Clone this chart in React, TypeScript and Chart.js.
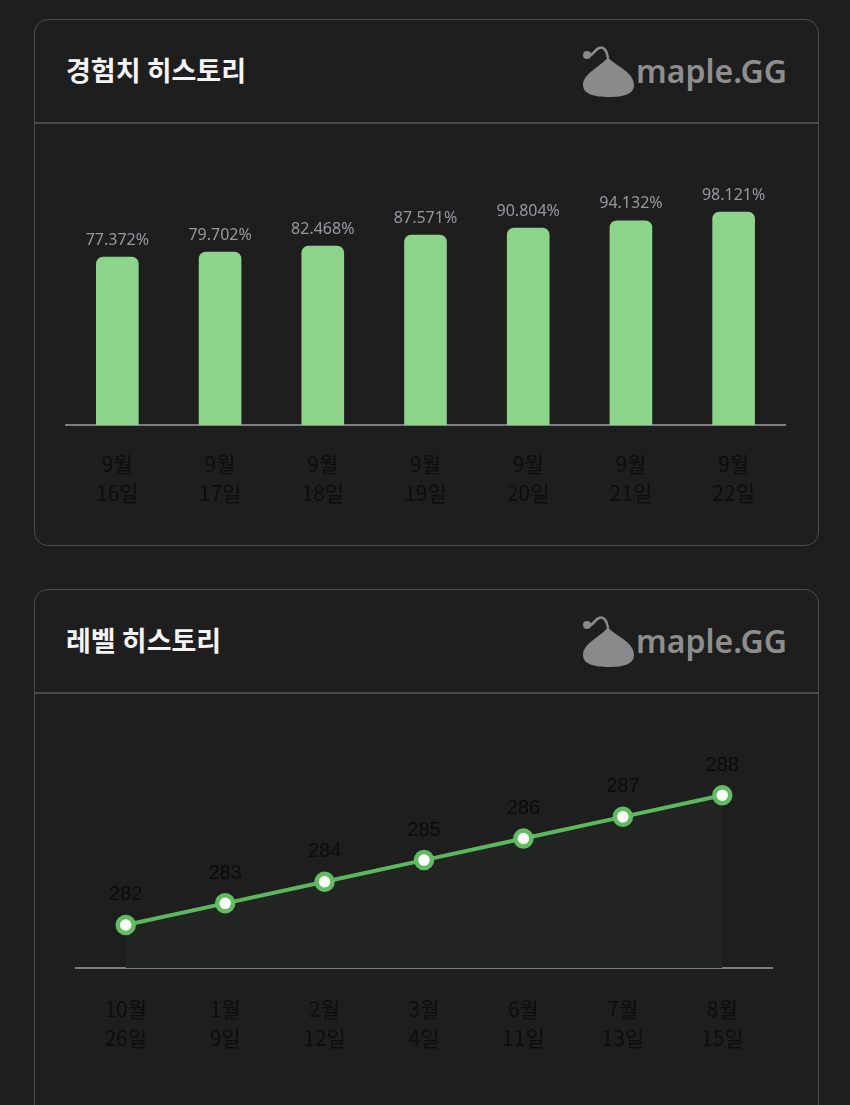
import React, { useEffect, useRef } from "react";
import { Chart, registerables } from "chart.js";

Chart.register(...registerables);

// ---- data ----
const expDates: string[][] = [
  ["9월", "16일"],
  ["9월", "17일"],
  ["9월", "18일"],
  ["9월", "19일"],
  ["9월", "20일"],
  ["9월", "21일"],
  ["9월", "22일"],
];
const expValues: number[] = [77.372, 79.702, 82.468, 87.571, 90.804, 94.132, 98.121];

const levelDates: string[][] = [
  ["10월", "26일"],
  ["1월", "9일"],
  ["2월", "12일"],
  ["3월", "4일"],
  ["6월", "11일"],
  ["7월", "13일"],
  ["8월", "15일"],
];
const levelValues: number[] = [282, 283, 284, 285, 286, 287, 288];

const KR = '"Noto Sans CJK KR", "Noto Sans", sans-serif';
const BG = "#1e1e1e";

function makeLabelPlugin(font: string, color: string, offset: number, fmt: (v: number) => string) {
  return {
    id: "valueLabels",
    afterDatasetsDraw(chart: any) {
      const ctx = chart.ctx;
      const meta = chart.getDatasetMeta(0);
      const data = chart.data.datasets[0].data as number[];
      ctx.save();
      ctx.font = font;
      ctx.fillStyle = color;
      ctx.textAlign = "center";
      ctx.textBaseline = "middle";
      meta.data.forEach((el: any, i: number) => {
        ctx.fillText(fmt(data[i]), el.x, el.y - offset);
      });
      ctx.restore();
    },
  };
}

function ExpChart() {
  const ref = useRef<HTMLCanvasElement>(null);
  useEffect(() => {
    const chart = new Chart(ref.current!, {
      type: "bar",
      data: {
        labels: expDates,
        datasets: [
          {
            data: expValues,
            backgroundColor: "#8dd48b",
            borderRadius: { topLeft: 7, topRight: 7, bottomLeft: 0, bottomRight: 0 },
            borderSkipped: "start",
            barThickness: 42,
          },
        ],
      },
      options: {
        responsive: false,
        animation: false,
        layout: { padding: { left: 16, right: 25, top: 78, bottom: 13 } },
        plugins: { legend: { display: false }, tooltip: { enabled: false } },
        scales: {
          x: {
            grid: { display: false, drawTicks: false },
            border: { display: true, color: "#7c7c84", width: 2 },
            ticks: {
              color: "#0d0d0d",
              padding: 24,
              font: { family: KR, size: 21, lineHeight: 1.4 },
            },
          },
          y: { display: false, min: 0, max: 100 },
        },
      },
      plugins: [makeLabelPlugin('16px "Noto Sans", sans-serif', "#9898a0", 17, (v) => v.toFixed(3) + "%")],
    });
    return () => chart.destroy();
  }, []);
  return (
    <canvas
      ref={ref}
      width={760}
      height={415}
      style={{ position: "absolute", left: 50, top: 130, width: 760, height: 415 }}
    />
  );
}

function LevelChart() {
  const ref = useRef<HTMLCanvasElement>(null);
  useEffect(() => {
    const chart = new Chart(ref.current!, {
      type: "line",
      data: {
        labels: levelDates,
        datasets: [
          {
            data: levelValues,
            borderColor: "#5cb85c",
            borderWidth: 4,
            backgroundColor: "#222522",
            fill: "start",
            tension: 0,
            pointRadius: 8,
            pointBorderWidth: 4.5,
            pointBackgroundColor: "#ffffff",
            pointBorderColor: "#62bd62",
          },
        ],
      },
      options: {
        responsive: false,
        animation: false,
        layout: { padding: { left: 26, right: 38, top: 52, bottom: 54 } },
        plugins: { legend: { display: false }, tooltip: { enabled: false } },
        scales: {
          x: {
            offset: true,
            grid: { display: false, drawTicks: false },
            border: { display: true, color: "#7c7c84", width: 2 },
            ticks: {
              color: "#0d0d0d",
              padding: 26,
              font: { family: KR, size: 21, lineHeight: 1.4 },
            },
          },
          y: { display: false, min: 280, max: 290 },
        },
      },
      plugins: [makeLabelPlugin('20px "Liberation Sans", Arial, sans-serif', "#0b0b0b", 30, (v) => String(v))],
    });
    return () => chart.destroy();
  }, []);
  return (
    <canvas
      ref={ref}
      width={760}
      height={433}
      style={{ position: "absolute", left: 50, top: 700, width: 760, height: 433 }}
    />
  );
}

function Logo({ top }: { top: number }) {
  return (
    <div style={{ position: "absolute", left: 580, top, width: 220, height: 54 }}>
      <svg width={56} height={54} viewBox="0 0 56 54" style={{ position: "absolute", left: 0, top: 0 }}>
        <circle cx={7} cy={10} r={4} fill="#8a8a8a" />
        <path d="M7 10 C 12 13, 14 5, 19 3 C 24 1, 27 6, 28 13" stroke="#8a8a8a" strokeWidth={2.5} fill="none" />
        <path
          d="M 28 12 C 33 20, 54 26, 54 40 C 54 49, 44 52, 29 52 C 14 52, 3 49, 3 40 C 3 28, 22 21, 28 12 Z"
          fill="#8a8a8a"
        />
      </svg>
      <span
        style={{
          position: "absolute",
          left: 56,
          top: 6,
          fontFamily: '"Noto Sans", sans-serif',
          fontWeight: 600,
          fontSize: 32,
          lineHeight: "40px",
          color: "#8e8e8e",
        }}
      >
        maple.GG
      </span>
    </div>
  );
}

function Card({ top, height, title }: { top: number; height: number; title: string }) {
  return (
    <>
      <div
        style={{
          position: "absolute",
          left: 34,
          top,
          width: 785,
          height,
          border: "1.5px solid #4d4d4d",
          borderRadius: 14,
          boxSizing: "border-box",
          background: BG,
        }}
      />
      <div
        style={{
          position: "absolute",
          left: 35,
          top: top + 103,
          width: 783,
          height: 1.5,
          background: "#4a4a4a",
        }}
      />
      <div
        style={{
          position: "absolute",
          left: 66,
          top: top + 32,
          fontFamily: KR,
          fontWeight: 700,
          fontSize: 27,
          lineHeight: "38px",
          color: "#f4f4f4",
        }}
      >
        {title}
      </div>
      <Logo top={top + 26} />
    </>
  );
}

export default function App() {
  return (
    <div
      style={{
        position: "absolute",
        left: 0,
        top: 0,
        width: 850,
        height: 1105,
        background: BG,
        overflow: "hidden",
      }}
    >
      <Card top={19} height={527} title="경험치 히스토리" />
      <Card top={589} height={600} title="레벨 히스토리" />
      <ExpChart />
      <LevelChart />
    </div>
  );
}
